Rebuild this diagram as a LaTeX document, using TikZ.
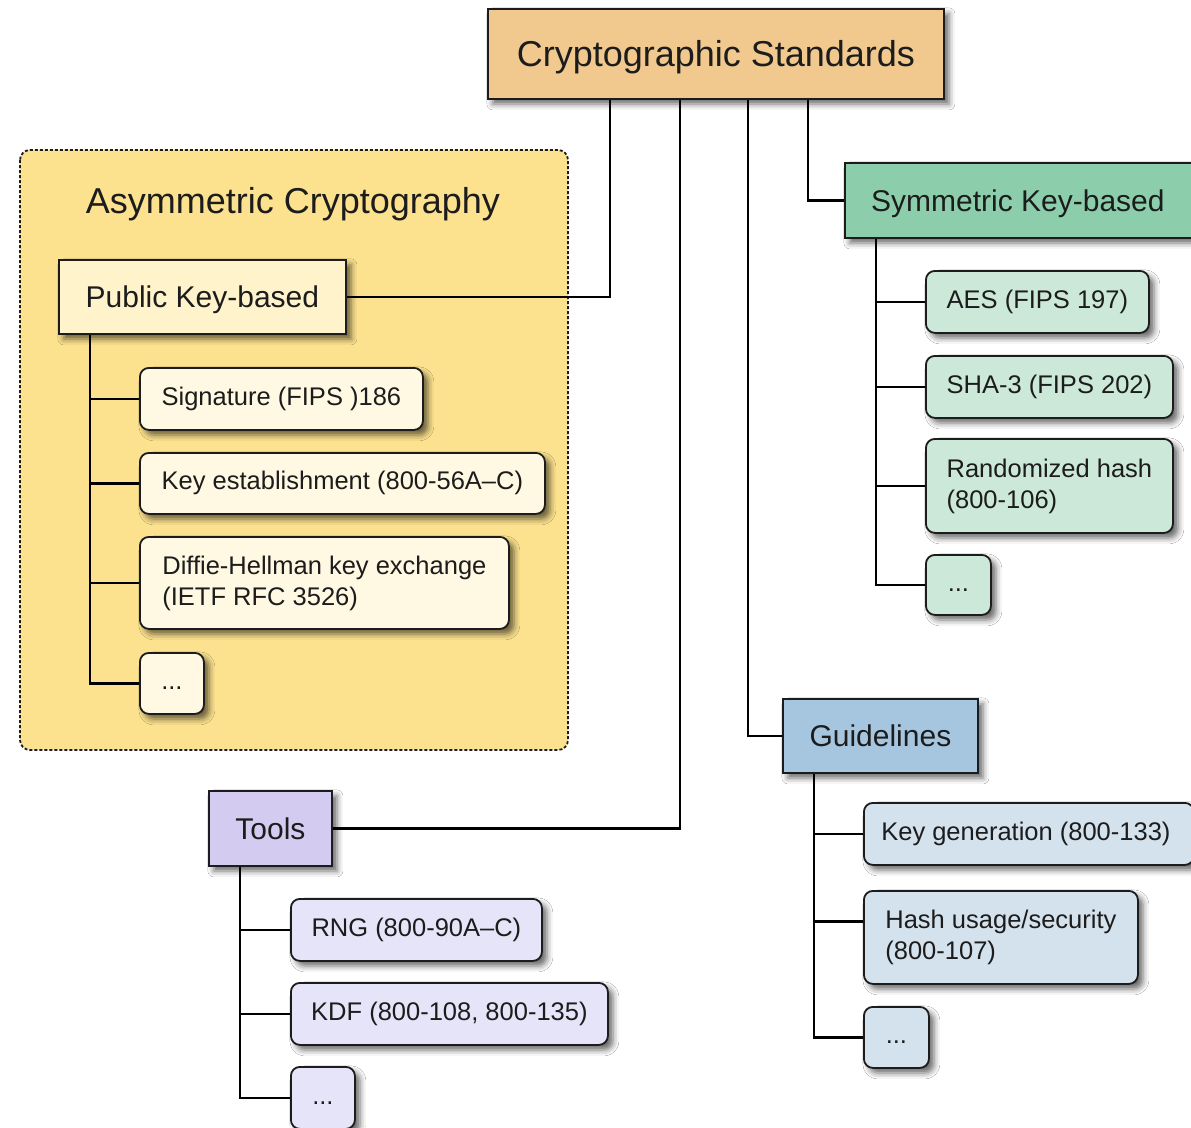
\documentclass[tikz,border=0pt]{standalone}
\usepackage{fontspec}
\setmainfont{Liberation Sans}
\usetikzlibrary{shadows.blur}
\definecolor{rootc}{RGB}{241,201,143}
\definecolor{asymbg}{RGB}{252,226,142}
\definecolor{pkc}{RGB}{255,243,204}
\definecolor{pkleaf}{RGB}{255,248,226}
\definecolor{symc}{RGB}{140,206,172}
\definecolor{symleaf}{RGB}{204,232,216}
\definecolor{gdc}{RGB}{166,198,224}
\definecolor{gdleaf}{RGB}{212,226,238}
\definecolor{toolc}{RGB}{212,204,240}
\definecolor{toolleaf}{RGB}{230,228,248}
\definecolor{ink}{RGB}{28,28,28}
\tikzset{
  shad/.style={blur shadow={shadow xshift=5pt, shadow yshift=-5pt, shadow blur radius=6pt, shadow opacity=60}},
  hdr/.style={draw=ink, line width=1.8pt, anchor=north west, inner sep=0pt, text=ink, text depth=0pt,
              font=\fontsize{30}{36}\selectfont, shad},
  leaf/.style={draw=ink, line width=1.8pt, rounded corners=9pt, anchor=north west, inner sep=0pt,
               align=left, text=ink, font=\fontsize{25.5}{31}\selectfont, shad},
  conn/.style={line width=2.8pt, black},
}
\newcommand{\dotsx}{\vphantom{Ag}...}
\begin{document}
\begin{tikzpicture}[x=1pt,y=-1pt]
\useasboundingbox (0,0) rectangle (1191,1127);
\fill[white] (0,0) rectangle (1191,1127);

% Asymmetric container
\draw[fill=asymbg, draw=ink, line width=1.8pt, dash pattern=on 3pt off 2pt, rounded corners=10pt]
  (20,150) rectangle (568,750);
\node[text=ink, text depth=0pt, font=\fontsize{36}{42}\selectfont] (asymt) at (293,200) {Asymmetric Cryptography};

% Root
\node[hdr, fill=rootc, minimum width=456pt, minimum height=90pt, font=\fontsize{36}{42}\selectfont]
  (root) at (487,8) {Cryptographic Standards};

% Headers
\node[hdr, fill=pkc, minimum width=287pt, minimum height=74pt] (pk) at (58,259) {Public Key-based};
\node[hdr, fill=symc, minimum width=352pt, minimum height=75pt] (sym) at (844,162) {\hspace*{-6pt}Symmetric Key-based};
\node[hdr, fill=gdc, minimum width=195pt, minimum height=74pt] (gd) at (782,698) {Guidelines};
\node[hdr, fill=toolc, minimum width=123pt, minimum height=75pt] (tools) at (208,790) {Tools};

% Asymmetric leaves
\node[leaf, fill=pkleaf, minimum width=283pt, minimum height=62pt] (sig) at (139,367) {Signature (FIPS )186};
\node[leaf, fill=pkleaf, minimum width=405pt, minimum height=61pt] (ke) at (139,452) {Key establishment (800-56A–C)};
\node[leaf, fill=pkleaf, minimum width=369pt, minimum height=92pt] (dh) at (139,536) {Diffie-Hellman key exchange\\(IETF RFC 3526)};
\node[leaf, fill=pkleaf, minimum width=64pt, minimum height=61pt] (pkd) at (139,652) {\dotsx};

% Symmetric leaves
\node[leaf, fill=symleaf, minimum width=223pt, minimum height=62pt] (aes) at (925,270) {AES (FIPS 197)};
\node[leaf, fill=symleaf, minimum width=247pt, minimum height=62pt] (sha) at (925,355) {SHA-3 (FIPS 202)};
\node[leaf, fill=symleaf, minimum width=247pt, minimum height=94pt] (rh) at (925,438) {Randomized hash\\(800-106)};
\node[leaf, fill=symleaf, minimum width=65pt, minimum height=60pt] (symd) at (925,554) {\dotsx};

% Guidelines leaves
\node[leaf, fill=gdleaf, minimum width=330pt, minimum height=62pt] (kg) at (863,802) {\hspace*{-6pt}Key generation (800-133)};
\node[leaf, fill=gdleaf, minimum width=274pt, minimum height=93pt] (hu) at (863,890) {Hash usage/security\\(800-107)};
\node[leaf, fill=gdleaf, minimum width=65pt, minimum height=61pt] (gdd) at (863,1006) {\dotsx};

% Tools leaves
\node[leaf, fill=toolleaf, minimum width=251pt, minimum height=62pt] (rng) at (290,898) {RNG (800-90A–C)};
\node[leaf, fill=toolleaf, minimum width=317pt, minimum height=62pt] (kdf) at (290,982) {KDF (800-108, 800-135)};
\node[leaf, fill=toolleaf, minimum width=64pt, minimum height=62pt] (td) at (290,1066) {\dotsx};

% Root connectors
\draw[conn] (pk.east) -| ([xshift=123pt]root.south west);
\draw[conn] (tools.east) -| ([xshift=193pt]root.south west);
\draw[conn] (gd.west) -| ([xshift=261pt]root.south west);
\draw[conn] (sym.west) -| ([xshift=321pt]root.south west);

% Trunks
\coordinate (t1) at ([xshift=32pt]pk.south west);
\draw[conn] (t1) |- (pkd.west);
\draw[conn] (sig.west) -- (sig.west -| t1);
\draw[conn] (ke.west) -- (ke.west -| t1);
\draw[conn] (dh.west) -- (dh.west -| t1);

\coordinate (t2) at ([xshift=32pt]sym.south west);
\draw[conn] (t2) |- (symd.west);
\draw[conn] (aes.west) -- (aes.west -| t2);
\draw[conn] (sha.west) -- (sha.west -| t2);
\draw[conn] (rh.west) -- (rh.west -| t2);

\coordinate (t3) at ([xshift=32pt]gd.south west);
\draw[conn] (t3) |- (gdd.west);
\draw[conn] (kg.west) -- (kg.west -| t3);
\draw[conn] ([yshift=16pt]hu.west) -- ([yshift=16pt]hu.west -| t3);

\coordinate (t4) at ([xshift=32pt]tools.south west);
\draw[conn] (t4) |- (td.west);
\draw[conn] (rng.west) -- (rng.west -| t4);
\draw[conn] (kdf.west) -- (kdf.west -| t4);
\end{tikzpicture}
\end{document}
